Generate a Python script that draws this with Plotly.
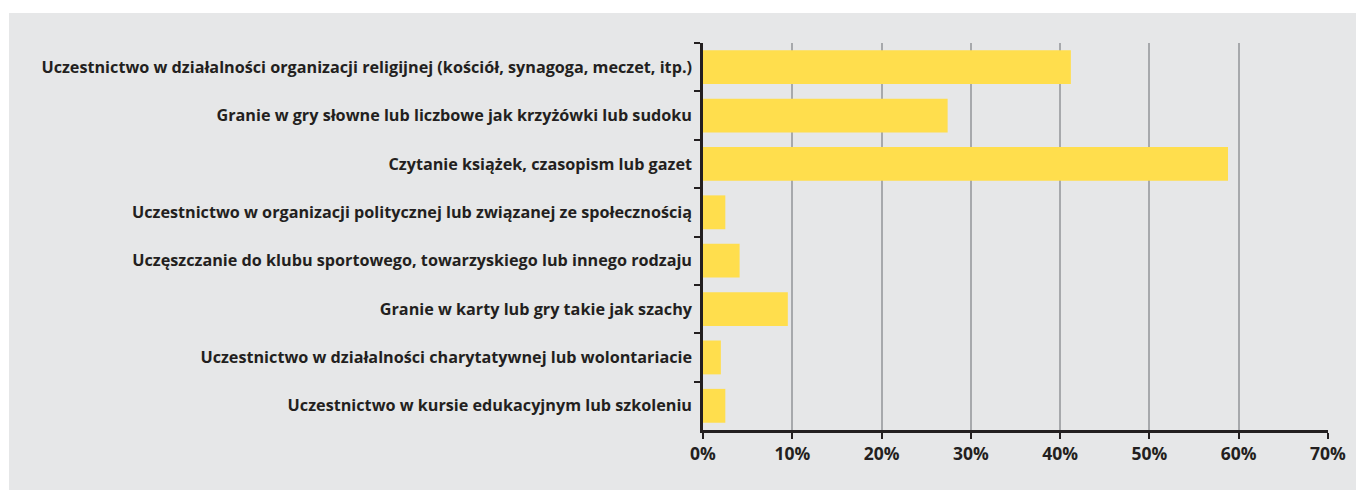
import plotly.graph_objects as go

categories = [
    "Uczestnictwo w działalności organizacji religijnej (kościół, synagoga, meczet, itp.)",
    "Granie w gry słowne lub liczbowe jak krzyżówki lub sudoku",
    "Czytanie książek, czasopism lub gazet",
    "Uczestnictwo w organizacji politycznej lub związanej ze społecznością",
    "Uczęszczanie do klubu sportowego, towarzyskiego lub innego rodzaju",
    "Granie w karty lub gry takie jak szachy",
    "Uczestnictwo w działalności charytatywnej lub wolontariacie",
    "Uczestnictwo w kursie edukacyjnym lub szkoleniu",
]
values = [41.2, 27.4, 58.8, 2.5, 4.1, 9.5, 2.0, 2.5]
x_ticks = [0, 10, 20, 30, 40, 50, 60, 70]
x_tick_labels = ["0%", "10%", "20%", "30%", "40%", "50%", "60%", "70%"]

ink = "#231f20"
fig = go.Figure(go.Bar(
    y=categories, x=values, orientation="h",
    marker=dict(color="#ffde4d", line=dict(width=0)),
    hoverinfo="x+y",
))

fig.update_layout(
    width=1356, height=482,
    margin=dict(l=695, r=36, t=35, b=60),
    paper_bgcolor="white",
    plot_bgcolor="rgba(0,0,0,0)",
    bargap=0.3,
    showlegend=False,
    font=dict(family="Open Sans", color=ink),
    shapes=[dict(type="rect", xref="paper", yref="paper",
                 x0=-1.1104, x1=1.07, y0=-0.17, y1=1.0775,
                 fillcolor="#e6e7e8", line=dict(width=0), layer="below")],
)
fig.update_xaxes(
    range=[0, 70], tickvals=x_ticks, ticktext=x_tick_labels,
    showgrid=True, gridcolor="#a7a9ac", gridwidth=1.5,
    showline=True, linecolor=ink, linewidth=2.5,
    ticks="outside", ticklen=6, tickwidth=2, tickcolor=ink,
    tickfont=dict(family="Open Sans", size=17.5, color=ink, weight=700),
    zeroline=False, fixedrange=True,
)
fig.update_yaxes(
    autorange="reversed", showgrid=False,
    showline=True, linecolor=ink, linewidth=2.5,
    ticks="outside", tickson="boundaries", ticklen=6, tickwidth=2, tickcolor=ink,
    ticklabelstandoff=5,
    tickfont=dict(family="Open Sans", size=16.2, color=ink, weight=700),
    fixedrange=True,
)

fig.write_html("out.html")
